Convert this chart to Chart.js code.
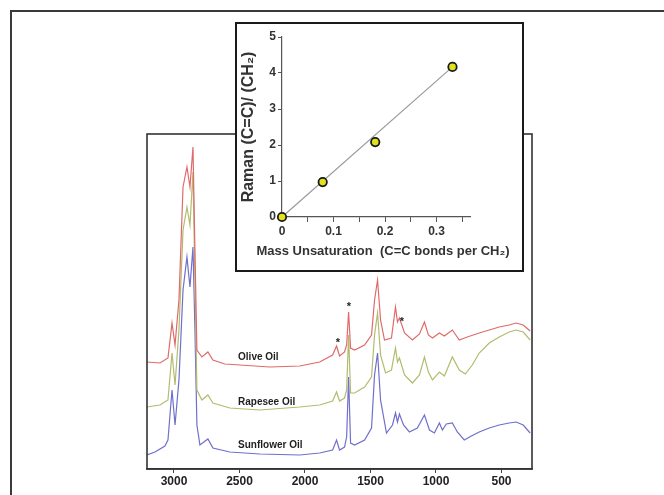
<!DOCTYPE html>
<html><head><meta charset="utf-8">
<script src="https://cdn.jsdelivr.net/npm/chart.js@4"></script>
<style>
html,body{margin:0;padding:0;background:#fff;}
#wrap{position:relative;width:664px;height:495px;overflow:hidden;background:#fff;}
#outer{position:absolute;left:10px;top:10px;width:700px;height:520px;border-top:2px solid #3a3a3a;border-left:2px solid #3a3a3a;}
#main{position:absolute;left:0;top:0;}
#insetBox{position:absolute;left:235px;top:22px;width:285px;height:246px;border:2px solid #1a1a1a;background:#fff;}
#inset{position:absolute;left:0;top:0;}
</style></head><body>
<div id="wrap">
<div id="outer"></div>
<canvas id="main" width="664" height="495"></canvas>
<div id="insetBox"><canvas id="inset" width="285" height="246"></canvas></div>
</div>
<script>
// ---- Main Raman spectra (wavenumber cm-1, intensity arb. units with offsets) ----
const olive_wn = [3206,3107,3046,3015,2992,2962,2931,2901,2878,2855,2840,2825,2787,2741,2703,2612,2497,2269,2040,1888,1789,1759,1736,1698,1682,1667,1652,1621,1545,1492,1469,1446,1423,1393,1340,1309,1294,1279,1240,1180,1126,1088,1058,1027,974,936,875,822,761,670,593,517,441,388,334,281];
const olive_int = [105,104,109,144,122,167,280,300,280,320,217,117,110,115,107,103,102,100,101,105,112,121,111,115,122,155,119,117,122,132,167,187,147,127,129,160,145,149,134,127,133,145,132,129,134,131,137,127,130,134,137,140,142,144,142,136];

const rapeseed_wn = [3206,3107,3046,3015,2992,2962,2931,2901,2878,2855,2840,2825,2787,2741,2703,2574,2345,2040,1888,1789,1759,1736,1698,1682,1667,1652,1621,1545,1492,1469,1446,1423,1385,1340,1309,1294,1279,1240,1180,1126,1088,1058,1027,974,936,875,822,776,723,670,593,517,441,388,334,281];
const rapeseed_int = [60,62,67,114,82,137,237,260,242,295,187,77,67,72,64,59,57,60,62,66,75,66,69,77,132,74,74,80,90,132,154,112,94,97,119,105,109,92,84,92,110,95,87,95,91,110,97,93,102,114,124,130,135,137,135,127];

const sunflower_wn = [3206,3145,3069,3046,3015,2992,2962,2931,2901,2878,2855,2840,2825,2802,2741,2703,2574,2345,2040,1888,1789,1759,1736,1698,1682,1667,1652,1621,1545,1492,1469,1446,1423,1378,1332,1309,1294,1279,1248,1203,1142,1088,1050,1012,974,951,921,875,837,784,730,670,593,517,441,388,334,281];
const sunflower_int = [12,15,21,27,77,42,87,177,210,180,220,137,42,22,28,19,15,13,12,14,17,27,17,20,30,90,24,22,27,39,92,114,67,34,42,54,45,53,42,35,39,52,37,34,44,37,43,44,35,27,31,35,39,42,44,45,42,34];

const xTickValues = [3000,2500,2000,1500,1000,500];

// Text annotations on the spectra
const oilLabels = ['Olive Oil','Rapesee Oil','Sunflower Oil'];
const oilLabelWn = [2511,2511,2511];
const oilLabelInt = [110,65,22];
const starWn = [1748,1664,1260];
const starInt = [127,163,148];

// ---- Inset: Raman (C=C)/(CH2) vs mass unsaturation ----
const unsat = [0, 0.079, 0.181, 0.331];
const ramanRatio = [0, 0.97, 2.08, 4.17];
const fitX = [0, 0.331];
const fitY = [0, 4.17];
const insetXTitle = 'Mass Unsaturation  (C=C bonds per CH\u2082)';
const insetYTitle = 'Raman (C=C)/ (CH\u2082)';

const FONT = "'Liberation Sans', Arial, sans-serif";
const pts = (xs, ys) => xs.map((x,i)=>({x:x, y:ys[i]}));

const framePlugin = {
  id:'frame',
  afterDraw(chart){
    const {ctx, chartArea:a, scales} = chart;
    ctx.save();
    ctx.strokeStyle = '#333'; ctx.lineWidth = 1.6;
    ctx.strokeRect(a.left, a.top, a.right-a.left, a.bottom-a.top);
    ctx.fillStyle = '#1e1e1e';
    ctx.font = 'bold 10px ' + FONT;
    ctx.textAlign = 'left'; ctx.textBaseline = 'middle';
    oilLabels.forEach((t,i)=>{
      ctx.fillText(t, scales.x.getPixelForValue(oilLabelWn[i]), scales.y.getPixelForValue(oilLabelInt[i]));
    });
    ctx.font = 'bold 11px ' + FONT;
    ctx.textAlign = 'center';
    starWn.forEach((w,i)=>{
      ctx.fillText('*', scales.x.getPixelForValue(w), scales.y.getPixelForValue(starInt[i]) + 3);
    });
    ctx.restore();
  }
};

new Chart(document.getElementById('main'), {
  type:'line',
  data:{datasets:[
    {label:'Olive Oil', data:pts(olive_wn, olive_int), borderColor:'#e06a6a', borderWidth:1.2, pointRadius:0, tension:0},
    {label:'Rapesee Oil', data:pts(rapeseed_wn, rapeseed_int), borderColor:'#b3bb6e', borderWidth:1.2, pointRadius:0, tension:0},
    {label:'Sunflower Oil', data:pts(sunflower_wn, sunflower_int), borderColor:'#6f6fcc', borderWidth:1.2, pointRadius:0, tension:0}
  ]},
  options:{
    responsive:false, animation:false,
    layout:{padding:{left:147,right:132,top:134,bottom:0}},
    plugins:{legend:{display:false}, tooltip:{enabled:false}},
    scales:{
      x:{type:'linear', reverse:true, min:267, max:3206,
        afterFit(a){ a.height = 26; },
        afterBuildTicks(a){ a.ticks = xTickValues.map(v=>({value:v})); },
        ticks:{font:{family:FONT, weight:'bold', size:12}, color:'#222', padding:1, maxRotation:0, autoSkip:false,
          callback:(v)=> String(v)},
        grid:{drawOnChartArea:false, tickLength:4, color:'#444'},
        border:{display:true, color:'#333', width:1.6}},
      y:{display:false, min:-2, max:333}
    }
  },
  plugins:[framePlugin]
});

const insetTitlePlugin = {
  id:'insetTitle',
  afterDraw(chart){
    const {ctx} = chart;
    ctx.save();
    ctx.fillStyle = '#333';
    ctx.font = 'bold 13px ' + FONT;
    ctx.textAlign = 'center'; ctx.textBaseline = 'middle';
    ctx.fillText(insetXTitle, 146, 227);
    ctx.restore();
  }
};

new Chart(document.getElementById('inset'), {
  type:'scatter',
  data:{datasets:[
    {label:'samples', data:pts(unsat, ramanRatio), backgroundColor:'#e2e21c', borderColor:'#1a1a1a', borderWidth:1.8, pointRadius:4.2, clip:false},
    {type:'line', label:'fit', data:pts(fitX, fitY), borderColor:'#9a9a9a', borderWidth:1.2, pointRadius:0, clip:false}
  ]},
  options:{
    responsive:false, animation:false,
    layout:{padding:{left:0,right:52,top:13,bottom:0}},
    plugins:{legend:{display:false}, tooltip:{enabled:false}},
    scales:{
      x:{type:'linear', min:0, max:0.365,
        afterFit(a){ a.height = 53; },
        ticks:{stepSize:0.05, includeBounds:false, autoSkip:false, maxRotation:0, padding:2,
          font:{family:FONT, weight:'bold', size:12}, color:'#333',
          callback:(v)=> Math.abs(v*10 - Math.round(v*10)) < 1e-6 ? (Math.round(v*10)/10).toString() : ''},
        grid:{drawOnChartArea:false, tickLength:5, color:'#555'},
        border:{display:true, color:'#555', width:1.2}},
      y:{min:0, max:5,
        afterFit(a){ a.width = 45; },
        ticks:{stepSize:1, includeBounds:false, padding:2, font:{family:FONT, weight:'bold', size:12}, color:'#333'},
        grid:{drawOnChartArea:false, tickLength:4, color:'#555'},
        border:{display:true, color:'#555', width:1.2},
        title:{display:true, text:insetYTitle, font:{family:FONT, weight:'bold', size:16}, color:'#333', padding:{top:2,bottom:0}}}
    }
  },
  plugins:[insetTitlePlugin]
});
</script>
</body></html>
